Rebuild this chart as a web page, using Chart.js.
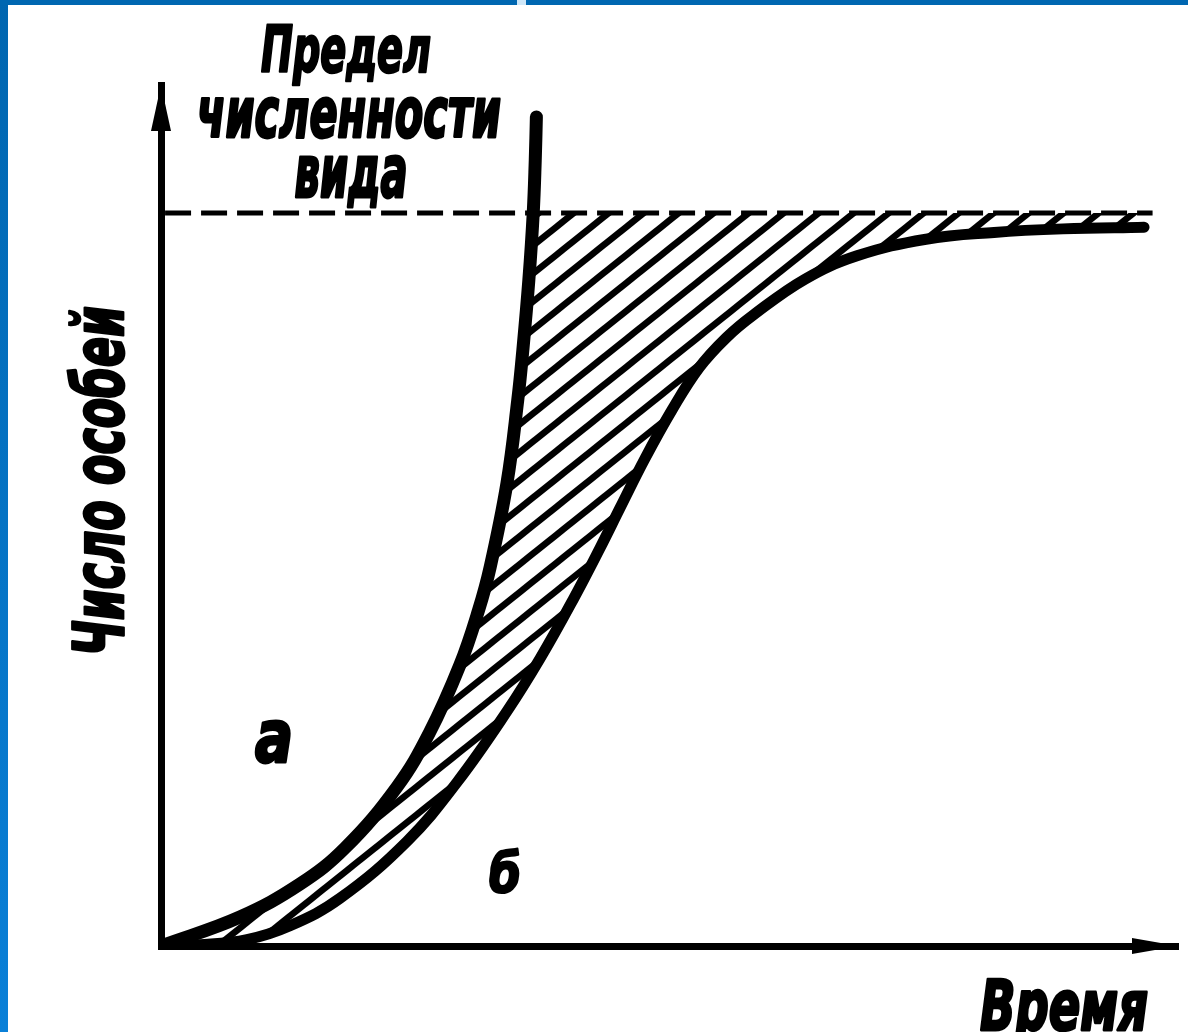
<!DOCTYPE html>
<html>
<head>
<meta charset="utf-8">
<script src="https://cdn.jsdelivr.net/npm/chart.js"></script>
<style>
  html, body { margin: 0; padding: 0; background: #ffffff; }
  #wrap { position: relative; width: 1188px; height: 1032px; overflow: hidden; background: #ffffff; }
  #c { position: absolute; left: 0; top: 0; }
  .bar-left { position: absolute; left: 0; top: 0; width: 8px; height: 1032px;
              background: linear-gradient(to bottom, #0066b0, #0a80d8); }
  .bar-top { position: absolute; left: 0; top: 0; width: 1188px; height: 5px; background: #0067b1; }
  .bar-gap { position: absolute; left: 517px; top: 0; width: 9px; height: 5px; background: #cfe7f8; }
</style>
</head>
<body>
<div id="wrap">
  <canvas id="c" width="1188" height="1032"></canvas>
  <div class="bar-left"></div>
  <div class="bar-top"></div>
  <div class="bar-gap"></div>
</div>
<script>
// ---- data (arbitrary units, 0..100 on both axes) ----
// curve "а": exponential (J-shaped) growth
const timeA  = [0, 7.76, 13.67, 18.09, 23.20, 26.38, 29.39, 31.23, 32.37, 34.02, 35.08, 35.58, 36.17, 36.60, 36.80, 36.91];
const countA = [0, 3.37,  7.20, 11.38, 18.47, 24.74, 32.64, 39.02, 44.02, 53.77, 63.41, 69.22, 77.35, 85.13, 91.29, 96.28];

// curve "б": logistic (S-shaped) growth
const timeB  = [0, 3.83, 8.46, 12.68, 17.60, 24.19, 29.11, 34.02, 37.27, 40.51, 43.17, 45.13, 47.59, 50.25, 52.90, 55.56, 58.26, 63.32, 68.44, 75.22, 81.91, 88.69, 96.66];
const countB = [0, 0.14, 0.74,  2.35,  5.54, 12.16, 19.02, 27.26, 33.39, 40.21, 46.23, 50.87, 56.62, 62.26, 67.14, 70.62, 73.30, 77.45, 80.16, 82.09, 82.88, 83.29, 83.49];

// species limit (dashed line)
const limitValue = 85.13;
const limitTime  = [0.4, 97.5];

const titleLines = ['Предел', 'численности', 'вида'];
const yTitle = 'Число особей';
const xTitle = 'Время';
const curveLabels = ['а', 'б'];

// ---- build datasets from the arrays ----
const ptsA = timeA.map((t, i) => ({ x: t, y: countA[i] }));
const ptsB = timeB.map((t, i) => ({ x: t, y: countB[i] }));
const ptsLimit = limitTime.map(t => ({ x: t, y: limitValue }));
// upper edge of hatched area: curve a up to the limit, then along the limit
const ptsHatchTop = ptsA.filter(p => p.y <= limitValue);
const cornerX = ptsHatchTop[ptsHatchTop.length - 1].x;
ptsHatchTop.push({ x: cornerX + 0.4, y: limitValue });
ptsHatchTop.push({ x: timeB[timeB.length - 1], y: limitValue });

// hatch pattern
function makeHatch() {
  const W = 35, H = 28;
  const t = document.createElement('canvas');
  t.width = W; t.height = H;
  const g = t.getContext('2d');
  g.strokeStyle = '#000';
  g.lineWidth = 6.5;
  for (let k = -1; k <= 1; k++) {
    g.beginPath();
    g.moveTo(-W, H + k * H + H);
    g.lineTo(2 * W, k * H - H);
    g.stroke();
  }
  return document.getElementById('c').getContext('2d').createPattern(t, 'repeat');
}

function stretchedText(ctx, text, cx, baseline, width, height, ref, angle) {
  ctx.save();
  ctx.font = "italic bold 100px 'DejaVu Sans Condensed', 'DejaVu Sans', sans-serif";
  const w = ctx.measureText(text).width;
  const h = ctx.measureText(ref).actualBoundingBoxAscent;
  ctx.translate(cx, baseline);
  if (angle) ctx.rotate(angle);
  ctx.scale(width / w, height / h);
  ctx.textAlign = 'center';
  ctx.textBaseline = 'alphabetic';
  ctx.fillStyle = '#000';
  ctx.strokeStyle = '#000';
  ctx.lineWidth = 4;
  ctx.lineJoin = 'round';
  ctx.fillText(text, 0, 0);
  ctx.strokeText(text, 0, 0);
  ctx.restore();
}

const decorations = {
  id: 'decorations',
  afterDraw(chart) {
    const ctx = chart.ctx;
    const a = chart.chartArea;
    ctx.save();
    ctx.fillStyle = '#000';
    // y axis arrow
    ctx.beginPath();
    ctx.moveTo(a.left, a.top);
    ctx.lineTo(a.left + 10, a.top + 46);
    ctx.lineTo(a.left - 10, a.top + 46);
    ctx.closePath();
    ctx.fill();
    // x axis arrow
    ctx.beginPath();
    ctx.moveTo(a.right, a.bottom);
    ctx.lineTo(a.right - 46, a.bottom - 8);
    ctx.lineTo(a.right - 46, a.bottom + 8);
    ctx.closePath();
    ctx.fill();
    ctx.restore();

    stretchedText(ctx, titleLines[0], 346, 72, 170, 47, 'П');
    stretchedText(ctx, titleLines[1], 349, 137, 304, 40, 'о');
    stretchedText(ctx, titleLines[2], 351, 197, 113, 40, 'в');
    stretchedText(ctx, yTitle, 123, 481, 350, 40, 'о', -Math.PI / 2);
    stretchedText(ctx, xTitle, 1064, 1030, 168, 40, 'е');
    stretchedText(ctx, curveLabels[0], 274, 762, 38, 42, 'а');
    stretchedText(ctx, curveLabels[1], 505, 892, 32, 44, 'б');
  }
};

const hatch = makeHatch();

new Chart(document.getElementById('c'), {
  type: 'line',
  data: {
    datasets: [
      { label: 'а', data: ptsA, borderColor: '#000', borderWidth: 13, pointRadius: 0,
        tension: 0.4, fill: false, borderCapStyle: 'round' },
      { label: 'б', data: ptsB, borderColor: '#000', borderWidth: 11, pointRadius: 0,
        tension: 0.4, fill: false, borderCapStyle: 'round' },
      { label: 'limit', data: ptsLimit, borderColor: '#000', borderWidth: 5, pointRadius: 0,
        borderDash: [26, 10], fill: false, tension: 0 },
      { label: 'hatch', data: ptsHatchTop, borderColor: 'rgba(0,0,0,0)', borderWidth: 0, pointRadius: 0,
        tension: 0.4, backgroundColor: hatch, fill: 1 }
    ]
  },
  options: {
    responsive: false,
    animation: false,
    layout: { padding: { left: 161, right: 10, top: 85, bottom: 86 } },
    plugins: { legend: { display: false }, tooltip: { enabled: false }, title: { display: false } },
    scales: {
      x: { type: 'linear', min: 0, max: 100,
           ticks: { display: false }, grid: { display: false, drawTicks: false },
           border: { display: true, color: '#000', width: 7 },
           afterFit(s) { s.height = 0; } },
      y: { type: 'linear', min: 0, max: 100,
           ticks: { display: false }, grid: { display: false, drawTicks: false },
           border: { display: true, color: '#000', width: 7 },
           afterFit(s) { s.width = 0; } }
    }
  },
  plugins: [decorations]
});
</script>
</body>
</html>
